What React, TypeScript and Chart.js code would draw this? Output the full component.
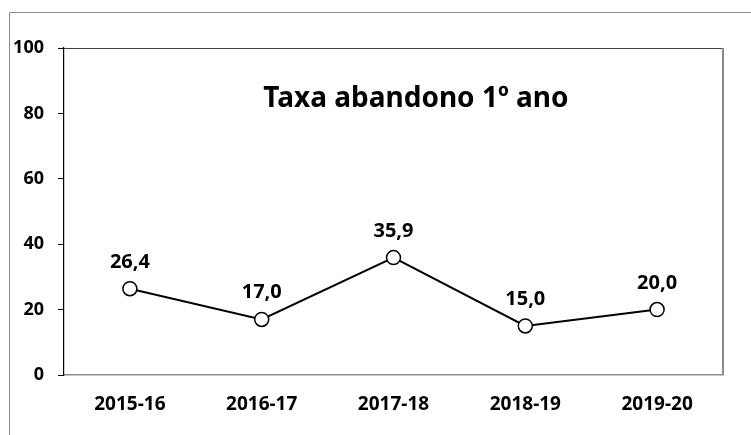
import React, { useEffect, useRef } from "react";
import { Chart, registerables } from "chart.js";

Chart.register(...registerables);

const categories = ["2015-16", "2016-17", "2017-18", "2018-19", "2019-20"];
const values = [26.4, 17.0, 35.9, 15.0, 20.0];
const yTicks = [0, 20, 40, 60, 80, 100];
const titleText = "Taxa abandono 1º ano";

const FONT = "'Noto Sans', 'Open Sans', sans-serif";

const fmt = (v: number) => v.toFixed(1).replace(".", ",");

const framePlugin = {
  id: "frame",
  beforeDraw(chart: any) {
    const ctx = chart.ctx;
    ctx.save();
    ctx.fillStyle = "#ffffff";
    ctx.fillRect(0, 0, chart.width, chart.height);
    ctx.strokeStyle = "#8c8c8c";
    ctx.lineWidth = 1;
    ctx.beginPath();
    ctx.moveTo(9.5, chart.height + 5);
    ctx.lineTo(9.5, 12.5);
    ctx.lineTo(chart.width + 5, 12.5);
    ctx.stroke();
    ctx.restore();
  },
  afterDraw(chart: any) {
    const ctx = chart.ctx;
    const a = chart.chartArea;
    ctx.save();
    ctx.strokeStyle = "#404040";
    ctx.lineWidth = 1.2;
    ctx.beginPath();
    ctx.moveTo(a.left, a.top + 0.5);
    ctx.lineTo(a.right, a.top + 0.5);
    ctx.stroke();
    ctx.strokeStyle = "#8c8c8c";
    ctx.lineWidth = 2;
    ctx.beginPath();
    ctx.moveTo(a.right, a.top);
    ctx.lineTo(a.right, a.bottom);
    ctx.stroke();
    // title
    ctx.fillStyle = "#000";
    ctx.font = `bold 28px ${FONT}`;
    ctx.textAlign = "center";
    ctx.textBaseline = "middle";
    ctx.fillText(titleText, a.left + (a.right - a.left) * 0.534, a.top + 51);
    ctx.restore();
  },
};

const labelPlugin = {
  id: "pointLabels",
  afterDatasetsDraw(chart: any) {
    const ctx = chart.ctx;
    const meta = chart.getDatasetMeta(0);
    ctx.save();
    ctx.fillStyle = "#000";
    ctx.font = `bold 20px ${FONT}`;
    ctx.textAlign = "center";
    ctx.textBaseline = "alphabetic";
    meta.data.forEach((pt: any, i: number) => {
      ctx.fillText(fmt(values[i]), pt.x, pt.y - 21);
    });
    ctx.restore();
  },
};

export default function App() {
  const ref = useRef<HTMLCanvasElement>(null);
  useEffect(() => {
    document.body.style.margin = "0";
    if (!ref.current) return;
    const chart = new Chart(ref.current, {
      type: "line",
      data: {
        labels: categories,
        datasets: [
          {
            data: values,
            borderColor: "#000",
            borderWidth: 2,
            pointRadius: 7,
            pointBackgroundColor: "#fff",
            pointBorderColor: "#000",
            pointBorderWidth: 1.5,
            tension: 0,
          },
        ],
      },
      options: {
        animation: false,
        responsive: false,
        devicePixelRatio: 1,
        layout: { padding: { left: 0, top: 48, right: 28, bottom: 0 } },
        plugins: {
          legend: { display: false },
          tooltip: { enabled: false },
          title: { display: false },
        },
        scales: {
          x: {
            offset: true,
            grid: { drawOnChartArea: false, drawTicks: false },
            border: { color: "#8c8c8c", width: 1.5 },
            ticks: {
              color: "#000",
              font: { family: FONT, size: 19, weight: "bold" },
              padding: 18,
              maxRotation: 0,
            },
            afterFit(scale: any) {
              scale.height = 60;
            },
          },
          y: {
            min: 0,
            max: 100,
            afterBuildTicks(scale: any) {
              scale.ticks = yTicks.map((v) => ({ value: v }));
            },
            grid: { drawOnChartArea: false, tickLength: 6, color: "#000" },
            border: { color: "#000", width: 1.2 },
            ticks: {
              color: "#000",
              font: { family: FONT, size: 18, weight: "bold" },
              padding: 14,
            },
            afterFit(scale: any) {
              scale.width = 64;
            },
          },
        },
      },
      plugins: [framePlugin, labelPlugin],
    });
    return () => chart.destroy();
  }, []);
  return (
    <div style={{ position: "absolute", left: 0, top: 0, width: 751, height: 435 }}>
      <canvas ref={ref} width={751} height={435} />
    </div>
  );
}
